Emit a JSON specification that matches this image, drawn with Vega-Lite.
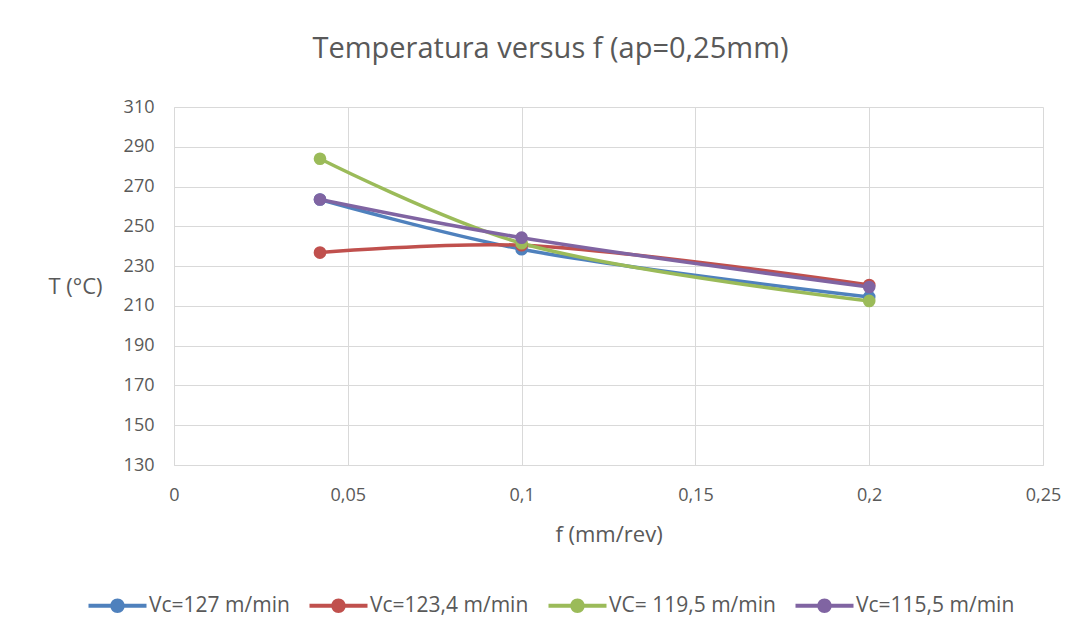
{
  "$schema": "https://vega.github.io/schema/vega-lite/v6.json",
  "width": 869,
  "height": 358,
  "autosize": {"type": "none"},
  "padding": {"left": 174, "top": 107, "right": 46, "bottom": 175},
  "background": "white",
  "title": {
    "text": "Temperatura versus f  (ap=0,25mm)",
    "anchor": "middle",
    "frame": "group",
    "dx": -58,
    "offset": 34,
    "fontSize": 29,
    "font": "Open Sans",
    "fontWeight": "normal",
    "color": "#595959"
  },
  "data": {
    "values": [
      {"serie": "Vc=127 m/min", "f": 0.042, "T": 263.5},
      {"serie": "Vc=127 m/min", "f": 0.1, "T": 238.5},
      {"serie": "Vc=127 m/min", "f": 0.2, "T": 214.5},
      {"serie": "Vc=123,4 m/min", "f": 0.042, "T": 236.8},
      {"serie": "Vc=123,4 m/min", "f": 0.1, "T": 240.5},
      {"serie": "Vc=123,4 m/min", "f": 0.2, "T": 220.5},
      {"serie": "VC= 119,5 m/min", "f": 0.042, "T": 284},
      {"serie": "VC= 119,5 m/min", "f": 0.1, "T": 241.5},
      {"serie": "VC= 119,5 m/min", "f": 0.2, "T": 212.5},
      {"serie": "Vc=115,5 m/min", "f": 0.042, "T": 263.5},
      {"serie": "Vc=115,5 m/min", "f": 0.1, "T": 244.3},
      {"serie": "Vc=115,5 m/min", "f": 0.2, "T": 219.5}
    ]
  },
  "encoding": {
    "x": {
      "field": "f",
      "type": "quantitative",
      "scale": {"domain": [0, 0.25], "nice": false},
      "axis": {
        "title": "f (mm/rev)",
        "values": [0, 0.05, 0.1, 0.15, 0.2, 0.25],
        "labelExpr": "replace(toString(datum.value), '.', ',')",
        "labelFlush": false,
        "labelPadding": 21,
        "titlePadding": 20
      }
    },
    "y": {
      "field": "T",
      "type": "quantitative",
      "scale": {"domain": [130, 310], "nice": false, "zero": false},
      "axis": {
        "title": "T (°C)",
        "values": [130, 150, 170, 190, 210, 230, 250, 270, 290, 310],
        "labelFlush": false,
        "labelPadding": 20,
        "titleAngle": 0,
        "titleX": -99,
        "titleY": 179,
        "titleAlign": "center",
        "titleBaseline": "middle"
      }
    },
    "color": {
      "field": "serie",
      "type": "nominal",
      "scale": {
        "domain": ["Vc=127 m/min", "Vc=123,4 m/min", "VC= 119,5 m/min", "Vc=115,5 m/min"],
        "range": ["#4F81BD", "#C0504D", "#9BBB59", "#8064A2"]
      },
      "legend": {
        "title": null,
        "orient": "none",
        "direction": "horizontal",
        "columns": 4,
        "legendX": -86,
        "legendY": 484,
        "symbolType": "M-2,-0.14 L2,-0.14 L2,0.14 L-2,0.14 Z M0.5,0 A0.5,0.5 0 1,1 -0.5,0 A0.5,0.5 0 1,1 0.5,0 Z",
        "symbolSize": 841,
        "symbolStrokeWidth": 0,
        "symbolOpacity": 1,
        "symbolOffset": 15,
        "labelOffset": 17,
        "labelLimit": 0,
        "columnPadding": 19,
        "labelFontSize": 21,
        "labelFont": "Open Sans",
        "labelColor": "#595959"
      }
    }
  },
  "layer": [
    {
      "mark": {"type": "line", "interpolate": "catmull-rom", "strokeWidth": 3.5}
    },
    {
      "mark": {"type": "point", "filled": true, "opacity": 1, "size": 160, "shape": "circle"}
    }
  ],
  "config": {
    "view": {"stroke": null},
    "font": "Open Sans",
    "axis": {
      "grid": true,
      "gridColor": "#d9d9d9",
      "gridWidth": 1,
      "domainColor": "#d9d9d9",
      "domainWidth": 1,
      "ticks": false,
      "labelFontSize": 18,
      "labelColor": "#595959",
      "labelFont": "Open Sans",
      "titleFontSize": 22,
      "titleFont": "Open Sans",
      "titleFontWeight": "normal",
      "titleColor": "#595959"
    }
  }
}
